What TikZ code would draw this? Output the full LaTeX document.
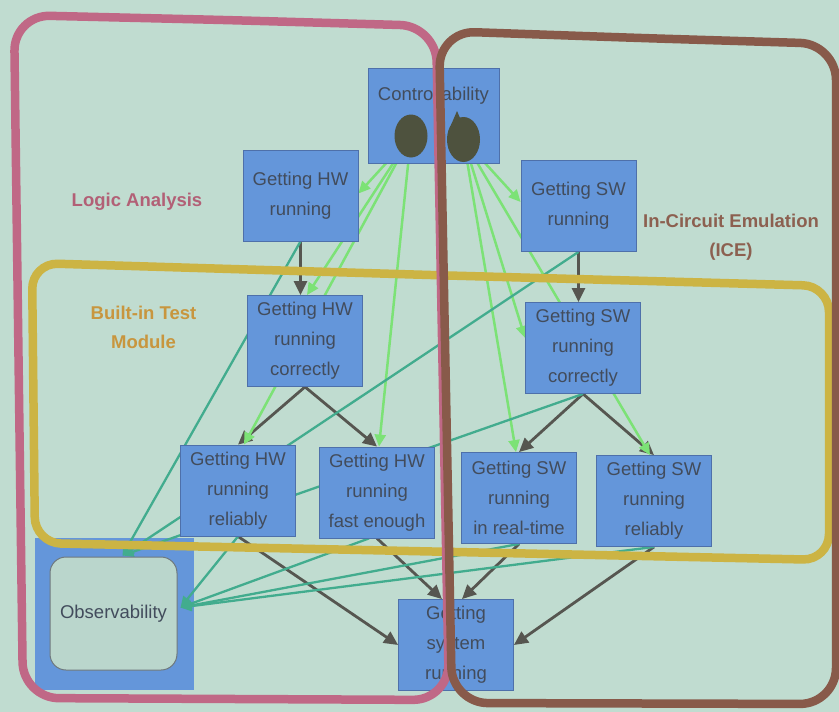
\documentclass[tikz,border=0pt]{standalone}
\usepackage{fontspec}
\setmainfont{Liberation Sans}
\usetikzlibrary{arrows.meta,calc,shapes.geometric}
\definecolor{bgc}{RGB}{192,220,208}
\definecolor{boxblue}{RGB}{100,150,218}
\definecolor{boxedge}{RGB}{78,112,170}
\definecolor{boxtext}{RGB}{66,76,92}
\definecolor{blobc}{RGB}{78,82,62}
\definecolor{obsfill}{RGB}{186,214,204}
\definecolor{obsedge}{RGB}{110,120,125}
\definecolor{pinkc}{RGB}{192,104,134}
\definecolor{brownc}{RGB}{136,90,74}
\definecolor{yellowc}{RGB}{204,180,68}
\definecolor{pinktxt}{RGB}{178,96,118}
\definecolor{goldtxt}{RGB}{200,150,62}
\definecolor{browntxt}{RGB}{140,96,80}
\definecolor{darkarr}{RGB}{86,86,80}
\definecolor{grn}{RGB}{124,226,118}
\definecolor{tealc}{RGB}{66,172,142}
\pgfdeclarelayer{bglayer}
\pgfdeclarelayer{edges}
\pgfdeclarelayer{frames}
\pgfsetlayers{bglayer,edges,main,frames}
\begin{document}
\begin{tikzpicture}[x=1pt,y=-1pt,
  box/.style={draw=boxedge,line width=0.8pt,fill=boxblue,text=boxtext,inner sep=0pt,
    align=center,minimum width=115pt,minimum height=91pt,
    font=\fontsize{18.5}{30}\selectfont},
  blobst/.style={ellipse,fill=blobc,inner sep=0pt},
  lab/.style={align=center,font=\bfseries\fontsize{18.5}{29}\selectfont},
  darr/.style={draw=darkarr,line width=2.8pt,-{Triangle[length=14pt,width=13pt]}},
  garr/.style={draw=grn,line width=2.5pt,-{Triangle[length=12pt,width=11pt]}},
  tarr/.style={draw=tealc,line width=2.3pt,-{Triangle[length=11pt,width=10pt]}},
  frame/.style={line width=8.5pt}]
\begin{pgfonlayer}{bglayer}
\fill[bgc] (0,0) rectangle (839,712);
\end{pgfonlayer}
\useasboundingbox (0,0) rectangle (839,712);

% boxes
\node[box,minimum width=131pt,minimum height=95pt] (ctrl) at (433.5,115.5) {};
\node[text=boxtext,font=\fontsize{18.5}{30}\selectfont] (ctrltxt) at (433.5,96) {Controllability};
\node[blobst,minimum width=33pt,minimum height=43pt] (cL) at (411,136) {};
\node[blobst,minimum width=33pt,minimum height=45pt] (cR) at (463.5,139.5) {};
\fill[blobc] (451,125) -- (457,111) -- (463,125) -- cycle;

\node[box] (hw1) at (300.5,195.5) {Getting HW\\running};
\node[box] (sw1) at (578.5,206) {Getting SW\\running};
\node[box] (hw2) at (305,341) {Getting HW\\running\\correctly};
\node[box] (sw2) at (583,348) {Getting SW\\running\\correctly};
\node[box] (hw3) at (238,490.5) {Getting HW\\running\\reliably};
\node[box] (hw4) at (377,492.5) {Getting HW\\running\\fast enough};
\node[box] (sw3) at (519,498) {Getting SW\\running\\in real-time};
\node[box] (sw4) at (654,501) {Getting SW\\running\\reliably};
\node[box] (sys) at (456,645) {Getting\\system\\running};

\node[draw=obsedge,line width=1pt,fill=obsfill,rounded corners=16pt,minimum width=127pt,
  minimum height=113pt,inner sep=0pt,text=boxtext,font=\fontsize{18.5}{30}\selectfont] (obsin) at (113.5,613.5) {Observability};

% labels
\node[lab,text=pinktxt] (la) at (137,202) {Logic Analysis};
\node[lab,text=goldtxt] (bt) at (143.5,327) {Built-in Test\\Module};
\node[lab,text=browntxt] (ice) at (731,237) {In-Circuit Emulation\\(ICE)};

\begin{pgfonlayer}{edges}
\node[fill=boxblue,minimum width=159pt,minimum height=152pt,inner sep=0pt] (obs) at (114.5,614) {};
% dark structure arrows
\draw[darr] (hw1.south) -- (hw1.south |- hw2.north);
\draw[darr] (sw1.south) -- (sw1.south |- sw2.north);
\draw[darr] (hw2.south) -- (hw3.north);
\draw[darr] (hw2.south) -- (hw4.north);
\draw[darr] (sw2.south) -- (sw3.north);
\draw[darr] (sw2.south) -- (sw4.north);
\draw[darr] (hw3.south) -- (sys.west);
\draw[darr] (hw4.south) -- ($(sys.north)+(-14,0)$);
\draw[darr] (sw3.south) -- ($(sys.north)+(6,0)$);
\draw[darr] (sw4.south) -- (sys.east);
% controllability arrows
\draw[garr] (cL) -- ($(hw1.east)+(0,-2)$);
\draw[garr] (cL) -- ($(hw2.north)+(2,0)$);
\draw[garr] (cL) -- ($(hw3.north)+(6,0)$);
\draw[garr] (cL) -- ($(hw4.north)+(2,0)$);
\draw[garr] (cR) -- ($(sw1.west)+(0,-4)$);
\draw[garr] (cR) -- ($(sw2.west)+(0,-10)$);
\draw[garr] (cR) -- ($(sw3.north)+(-3,0)$);
\draw[garr] (cR) -- ($(sw4.north)+(-4,0)$);
% observability arrows
\coordinate (otop) at ($(obsin.north)+(9,-1)$);
\coordinate (orgt) at ($(obsin.east)+(3,-6)$);
\draw[tarr] (hw1.south) -- (otop);
\draw[tarr] (sw1.south) -- (otop);
\draw[tarr] (sw2.south) -- (otop);
\draw[tarr] (hw3.south) -- (orgt);
\draw[tarr] ($(hw4.south)+(-8,0)$) -- (orgt);
\draw[tarr] (sw3.south) -- (orgt);
\draw[tarr] (sw4.south) -- (orgt);
\end{pgfonlayer}

\begin{pgfonlayer}{frames}
\draw[frame,yellowc,rounded corners=26pt] (430,275) -- (829,286) -- (829,560) -- (35,543) -- (32,263) -- cycle;
\draw[frame,pinkc,rounded corners=36pt] (225,20) -- (436,26) -- (449,700) -- (23,698) -- (14,15) -- cycle;
\draw[frame,brownc,rounded corners=36pt] (640,38) -- (836,44) -- (836,704) -- (452,703) -- (439,31) -- cycle;
\end{pgfonlayer}
\end{tikzpicture}
\end{document}
